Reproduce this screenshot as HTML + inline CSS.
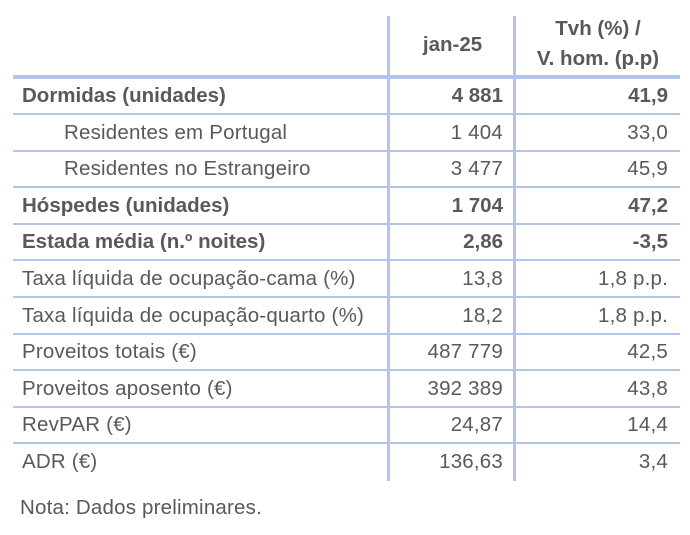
<!DOCTYPE html>
<html><head><meta charset="utf-8"><style>
body{margin:0;width:690px;height:535px;background:#fff;position:relative;overflow:hidden;font-family:"Liberation Sans",sans-serif;color:#595959;}
.t{position:absolute;font-size:20.5px;line-height:24px;white-space:nowrap;letter-spacing:0.2px;}
.b{font-weight:bold;letter-spacing:0;}
.h{position:absolute;left:13px;width:667px;background:#b4c6e7;height:2px;}
.v{position:absolute;width:3px;background:#b4c6e7;top:16px;height:465px;}
.r{text-align:right;}
</style></head><body>
<div class="v" style="left:387px"></div>
<div class="v" style="left:513px"></div>
<div class="h" style="top:75px;height:4px"></div>
<div class="t b" style="left:390px;width:125px;text-align:center;top:33px">jan-25</div>
<div class="t b" style="left:516px;width:164px;text-align:center;top:17px">Tvh (%) /</div>
<div class="t b" style="left:516px;width:164px;text-align:center;top:47px">V. hom. (p.p)</div>
<div id="rows"></div>
<div class="t" style="left:20px;top:496px">Nota: Dados preliminares.</div>
<script>
var d=[["Dormidas (unidades)","4 881","41,9",1,0],["Residentes em Portugal","1 404","33,0",0,1],["Residentes no Estrangeiro","3 477","45,9",0,1],["Hóspedes (unidades)","1 704","47,2",1,0],["Estada média (n.º noites)","2,86","-3,5",1,0],["Taxa líquida de ocupação-cama (%)","13,8","1,8 p.p.",0,0],["Taxa líquida de ocupação-quarto (%)","18,2","1,8 p.p.",0,0],["Proveitos totais (€)","487 779","42,5",0,0],["Proveitos aposento (€)","392 389","43,8",0,0],["RevPAR (€)","24,87","14,4",0,0],["ADR (€)","136,63","3,4",0,0]];
var h="";
for(var i=0;i<d.length;i++){var c=96+i*36.6,y=c-12,cl=d[i][3]?"t b":"t";
h+='<div class="'+cl+'" style="left:'+(d[i][4]?64:22)+'px;top:'+y+'px">'+d[i][0]+'</div>';
h+='<div class="'+cl+' r" style="right:187px;top:'+y+'px">'+d[i][1]+'</div>';
h+='<div class="'+cl+' r" style="right:22px;top:'+y+'px">'+d[i][2]+'</div>';
if(i<d.length-1)h+='<div class="h" style="top:'+(c+17)+'px"></div>';}
document.getElementById("rows").innerHTML=h;
</script>
</body></html>
